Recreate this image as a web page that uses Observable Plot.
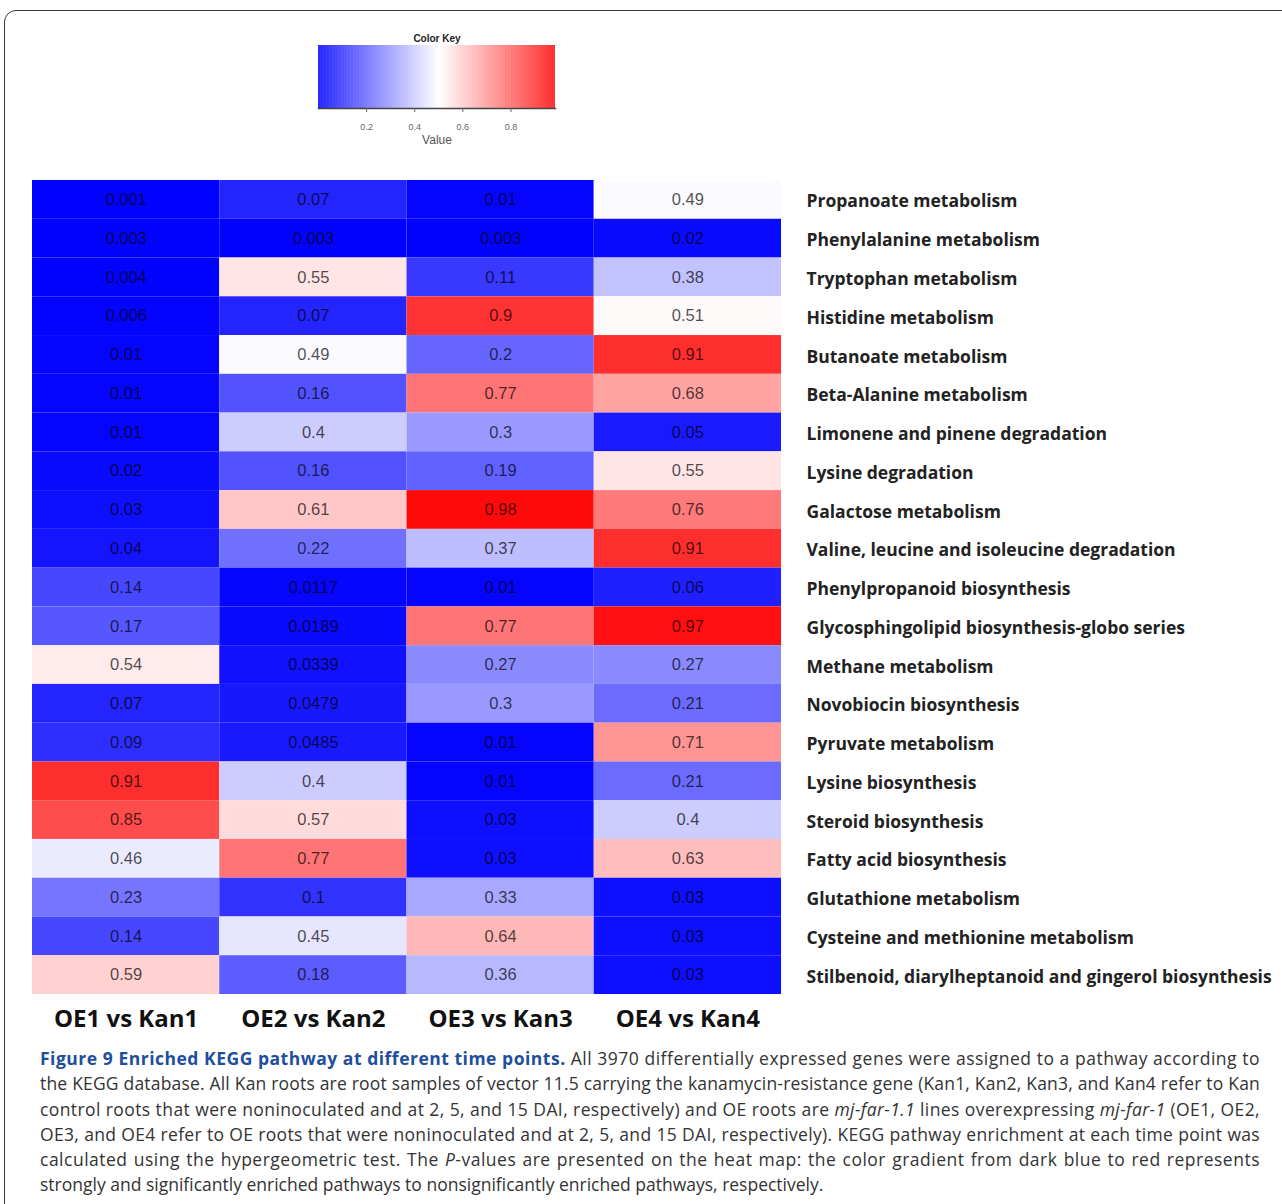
<!DOCTYPE html>
<html>
<head>
<meta charset="utf-8">
<script src="https://cdn.jsdelivr.net/npm/d3@7"></script>
<script src="https://cdn.jsdelivr.net/npm/@observablehq/plot@0.6"></script>
<style>
  html, body { margin: 0; padding: 0; background: #fff; }
  body { width: 1282px; height: 1204px; position: relative; overflow: hidden; font-family: "Open Sans", sans-serif; }
  #panel { position: absolute; left: 4px; top: 10px; width: 1320px; height: 1260px;
           border: 1.5px solid #3a3a3a; border-radius: 12px 0 0 0; box-sizing: border-box; }
  #key { position: absolute; left: 300px; top: 25px; }
  #heat { position: absolute; left: 0; top: 160px; }
  #caption { position: absolute; left: 40px; top: 1046px; width: 1220px;
             font-family: "Open Sans", sans-serif; font-size: 17.5px; color: #333; line-height: 25.3px; }
  #caption .ln { white-space: nowrap; text-align: justify; text-align-last: justify; }
  #caption .ln.last { text-align-last: left; }
  #caption b { color: #1d4f9c; font-weight: 700; }
  #heat svg [aria-label="y-axis tick label"] text { font-weight: 700; }
  #heat svg [aria-label="x-axis tick label"] text { font-weight: 700; }
</style>
</head>
<body>
<div id="panel"></div>
<div id="key"></div>
<div id="heat"></div>
<div id="caption">
  <div class="ln"><b>Figure 9 Enriched KEGG pathway at different time points.</b> All 3970 differentially expressed genes were assigned to a pathway according to</div>
  <div class="ln">the KEGG database. All Kan roots are root samples of vector 11.5 carrying the kanamycin-resistance gene (Kan1, Kan2, Kan3, and Kan4 refer to Kan</div>
  <div class="ln">control roots that were noninoculated and at 2, 5, and 15 DAI, respectively) and OE roots are <i>mj-far-1.1</i> lines overexpressing <i>mj-far-1</i> (OE1, OE2,</div>
  <div class="ln">OE3, and OE4 refer to OE roots that were noninoculated and at 2, 5, and 15 DAI, respectively). KEGG pathway enrichment at each time point was</div>
  <div class="ln">calculated using the hypergeometric test. The <i>P</i>-values are presented on the heat map: the color gradient from dark blue to red represents</div>
  <div class="ln last">strongly and significantly enriched pathways to nonsignificantly enriched pathways, respectively.</div>
</div>
<script>
// KEGG pathways (top to bottom) and the four comparisons
const pathways = [
  "Propanoate metabolism",
  "Phenylalanine metabolism",
  "Tryptophan metabolism",
  "Histidine metabolism",
  "Butanoate metabolism",
  "Beta-Alanine metabolism",
  "Limonene and pinene degradation",
  "Lysine degradation",
  "Galactose metabolism",
  "Valine, leucine and isoleucine degradation",
  "Phenylpropanoid biosynthesis",
  "Glycosphingolipid biosynthesis-globo series",
  "Methane metabolism",
  "Novobiocin biosynthesis",
  "Pyruvate metabolism",
  "Lysine biosynthesis",
  "Steroid biosynthesis",
  "Fatty acid biosynthesis",
  "Glutathione metabolism",
  "Cysteine and methionine metabolism",
  "Stilbenoid, diarylheptanoid and gingerol biosynthesis"
];
const comparisons = ["OE1 vs Kan1", "OE2 vs Kan2", "OE3 vs Kan3", "OE4 vs Kan4"];

// Enrichment P-values, one array per comparison, in pathway order
const oe1 = [0.001, 0.003, 0.004, 0.006, 0.01, 0.01, 0.01, 0.02, 0.03, 0.04, 0.14, 0.17, 0.54, 0.07, 0.09, 0.91, 0.85, 0.46, 0.23, 0.14, 0.59];
const oe2 = [0.07, 0.003, 0.55, 0.07, 0.49, 0.16, 0.4, 0.16, 0.61, 0.22, 0.0117, 0.0189, 0.0339, 0.0479, 0.0485, 0.4, 0.57, 0.77, 0.1, 0.45, 0.18];
const oe3 = [0.01, 0.003, 0.11, 0.9, 0.2, 0.77, 0.3, 0.19, 0.98, 0.37, 0.01, 0.77, 0.27, 0.3, 0.01, 0.01, 0.03, 0.03, 0.33, 0.64, 0.36];
const oe4 = [0.49, 0.02, 0.38, 0.51, 0.91, 0.68, 0.05, 0.55, 0.76, 0.91, 0.06, 0.97, 0.27, 0.21, 0.71, 0.21, 0.4, 0.63, 0.03, 0.03, 0.03];

// Color key ticks
const keyTicks = [0.2, 0.4, 0.6, 0.8];

const series = [oe1, oe2, oe3, oe4];
const cells = [];
comparisons.forEach((c, j) => pathways.forEach((p, i) => cells.push({comparison: c, pathway: p, value: series[j][i]})));

const colorScale = {type: "linear", domain: [0, 0.5, 1], range: ["#0000ff", "#ffffff", "#ff0000"], interpolate: "rgb"};

// Heat map
const heat = Plot.plot({
  width: 1282,
  height: 880,
  marginLeft: 32,
  marginRight: 501,
  marginTop: 20,
  marginBottom: 46,
  style: {background: "transparent", fontFamily: "'Open Sans', sans-serif", color: "#222"},
  x: {domain: comparisons, padding: 0, round: false, label: null},
  y: {domain: pathways, padding: 0, round: false, label: null},
  color: colorScale,
  marks: [
    Plot.cell(cells, {x: "comparison", y: "pathway", fill: "value"}),
    Plot.text(cells, {
      x: "comparison", y: "pathway", text: d => String(d.value),
      fill: "#000", fillOpacity: 0.7, fontSize: 16.5,
      fontFamily: "'Liberation Sans Narrow', 'Arial Narrow', 'Liberation Sans', sans-serif"
    }),
    Plot.axisY({anchor: "right", tickSize: 0, tickPadding: 25, dy: 2, fontSize: 17.5, fontWeight: "bold", fill: "#222", label: null}),
    Plot.axisX({anchor: "bottom", tickSize: 0, tickPadding: 15, fontSize: 24, fontWeight: "bold", fill: "#111", label: null})
  ]
});
document.getElementById("heat").appendChild(heat);

// Color key: a ramp over the value range with its own axis
const keyStops = d3.range(0, 0.985, 0.0025);
const key = Plot.plot({
  width: 270,
  height: 126,
  marginLeft: 18,
  marginRight: 15,
  marginTop: 20,
  marginBottom: 43,
  style: {background: "transparent", fontFamily: "'Liberation Sans Narrow', 'Liberation Sans', sans-serif", color: "#555"},
  x: {domain: [0, 0.985], label: null},
  color: colorScale,
  marks: [
    Plot.rect(keyStops, {x1: d => d, x2: d => Math.min(d + 0.003, 0.985), fill: d => d}),
    Plot.frame({anchor: "bottom", stroke: "#444", strokeWidth: 1.5}),
    Plot.axisX({ticks: keyTicks, tickFormat: d => String(d), tickSize: 4, tickPadding: 11, fontSize: 9, fill: "#666", stroke: "#666", label: null}),
    Plot.text(["Value"], {frameAnchor: "bottom", dy: 35, fontSize: 12, fill: "#555"}),
    Plot.text(["Color Key"], {frameAnchor: "top", dy: -11, fontSize: 10, fontWeight: "bold", fill: "#222"})
  ]
});
document.getElementById("key").appendChild(key);

// Fit each caption line to the column width with letter spacing; justification absorbs the rest
document.querySelectorAll("#caption .ln").forEach(el => {
  if (el.classList.contains("last")) return;
  const target = 1218;
  const probe = document.createElement("span");
  probe.innerHTML = el.innerHTML;
  probe.style.whiteSpace = "nowrap";
  probe.style.visibility = "hidden";
  probe.style.position = "absolute";
  el.parentNode.appendChild(probe);
  const w = probe.getBoundingClientRect().width;
  probe.remove();
  const ls = Math.max(-1, Math.min(0.5, (target - w) / el.textContent.trim().length));
  el.style.letterSpacing = ls + "px";
});
</script>
</body>
</html>
